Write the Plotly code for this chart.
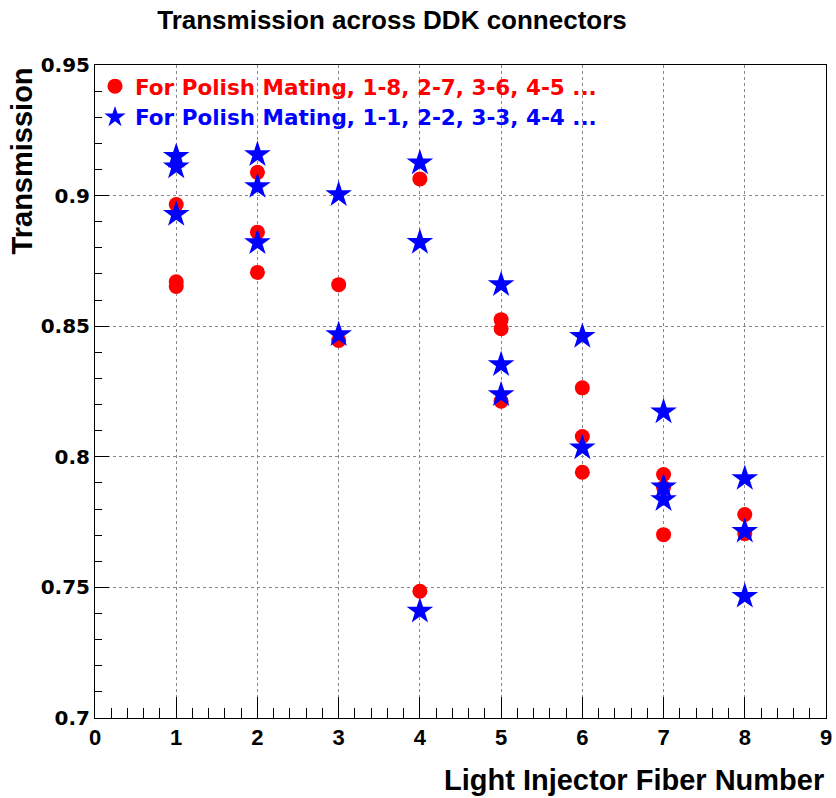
import plotly.graph_objects as go

# Fiber numbers and transmission values
red_x = [1, 1, 1, 2, 2, 2, 3, 3, 4, 4, 5, 5, 5, 6, 6, 6, 7, 7, 7, 8, 8]
red_y = [0.8966, 0.8670, 0.8652, 0.9089, 0.8860, 0.8706, 0.8659, 0.8445,
         0.9064, 0.7485, 0.8525, 0.8490, 0.8213, 0.8264, 0.8078, 0.7941,
         0.7932, 0.7882, 0.7702, 0.7779, 0.7706]

blue_x = [1, 1, 1, 2, 2, 2, 3, 3, 4, 4, 4, 5, 5, 5, 6, 6, 7, 7, 7, 8, 8, 8]
blue_y = [0.9150, 0.9110, 0.8928, 0.9157, 0.9035, 0.8820, 0.9004, 0.8468,
          0.9125, 0.8821, 0.7409, 0.8659, 0.8353, 0.8238, 0.8461, 0.8034,
          0.8172, 0.7885, 0.7836, 0.7917, 0.7715, 0.7466]

red_name = "For Polish Mating, 1-8, 2-7, 3-6, 4-5 ..."
blue_name = "For Polish Mating, 1-1, 2-2, 3-3, 4-4 ..."
title_text = "Transmission across DDK connectors"
x_title = "Light Injector Fiber Number"
y_title = "Transmission"

W, H = 836, 798
L, R, T, B = 95, 10, 65, 80

fig = go.Figure()
fig.add_trace(go.Scatter(
    x=red_x, y=red_y, mode="markers",
    name="<span style='color:#ff0000'>" + red_name + "</span>",
    marker=dict(symbol="circle", size=15, color="#ff0000", line=dict(width=0)),
))
fig.add_trace(go.Scatter(
    x=blue_x, y=blue_y, mode="markers",
    name="<span style='color:#0000ff'>" + blue_name + "</span>",
    marker=dict(symbol="star", size=20, color="#0000ff", line=dict(width=0)),
))

ytick_font = dict(family="DejaVu Sans", size=20, color="black", weight="bold")
xtick_font = dict(family="Liberation Sans", size=22, color="black", weight="bold")
head_font = dict(family="Liberation Sans", size=29, color="black", weight="bold")

fig.update_layout(
    width=W, height=H,
    margin=dict(l=L, r=R, t=T, b=B, autoexpand=False),
    paper_bgcolor="white", plot_bgcolor="white",
    title=dict(text=title_text, x=392 / W, xref="container", xanchor="center",
               y=1 - 20 / H, yref="container", yanchor="middle",
               font=dict(family="Liberation Sans", size=26, color="black", weight="bold")),
    showlegend=True,
    legend=dict(x=0.0, y=0.999, xanchor="left", yanchor="top",
                bgcolor="rgba(0,0,0,0)", borderwidth=0,
                font=dict(family="DejaVu Sans", size=21.5, weight="bold"),
                tracegroupgap=0, itemsizing="trace"),
    xaxis=dict(range=[0, 9], dtick=1, tick0=0, ticks="inside", ticklen=21,
               tickcolor="black", showline=True, linecolor="black", linewidth=1,
               mirror=True, showgrid=True, gridcolor="#888888", griddash="dot",
               gridwidth=1, zeroline=False, tickfont=xtick_font, automargin=False,
               minor=dict(dtick=0.2, ticks="inside", ticklen=10, tickcolor="black",
                          showgrid=False)),
    yaxis=dict(range=[0.7, 0.95], dtick=0.05, tick0=0.7, ticks="inside", ticklen=14,
               tickcolor="black", showline=True, linecolor="black", linewidth=1,
               mirror=True, showgrid=True, gridcolor="#888888", griddash="dot",
               gridwidth=1, zeroline=False, tickfont=ytick_font, automargin=False,
               minor=dict(dtick=0.01, ticks="inside", ticklen=7, tickcolor="black",
                          showgrid=False)),
)

fig.add_annotation(text=x_title, xref="paper", yref="paper", x=1.0, y=-0.095,
                   xanchor="right", yanchor="middle", showarrow=False,
                   font=head_font)
fig.add_annotation(text=y_title, xref="paper", yref="paper", x=-0.1, y=1.0,
                   xanchor="center", yanchor="top", textangle=-90, showarrow=False,
                   font=head_font)

fig.write_html("out.html")
